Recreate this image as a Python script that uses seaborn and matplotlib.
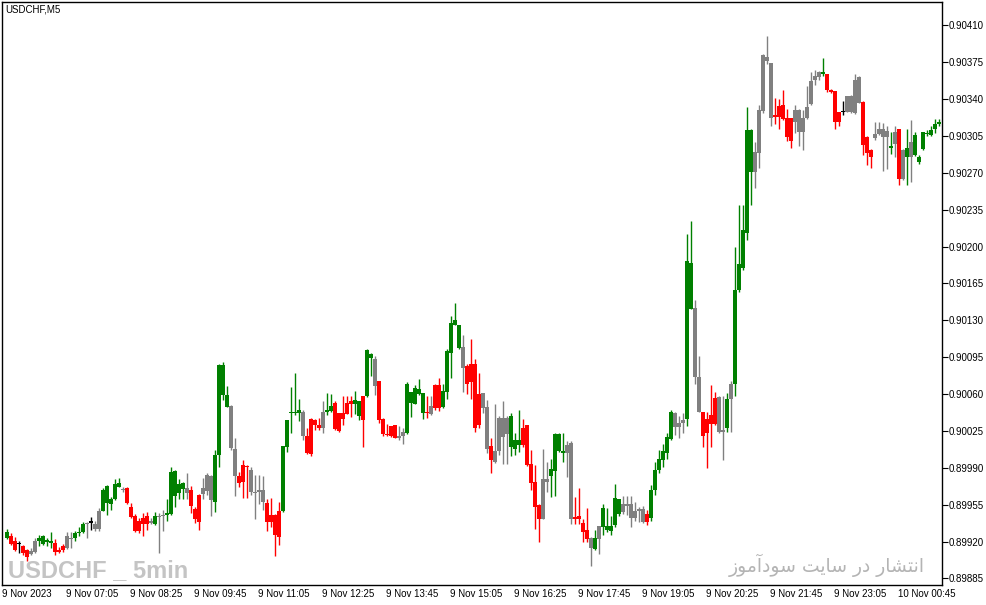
"""USDCHF M5 candlestick chart (MetaTrader style)."""

import matplotlib
matplotlib.use("Agg")
import matplotlib.pyplot as plt
import seaborn as sns
import numpy as np
import pandas as pd

sns.set_theme(style="white")
plt.rcParams["font.family"] = ["Liberation Sans", "DejaVu Sans"]

# prices in points (1e-5)
opens = [
    89923, 89925, 89921, 89918, 89916, 89912, 89908, 89910, 89921, 89918,
    89920, 89919, 89919, 89912, 89916, 89914, 89923, 89923, 89928, 89929,
    89937, 89938, 89937, 89932, 89949, 89957, 89956, 89960, 89972, 89970,
    89971, 89953, 89944, 89940, 89942, 89944, 89938, 89937, 89944, 89944,
    89945, 89946, 89963, 89966, 89970, 89971, 89969, 89951, 89939, 89965,
    89968, 89982, 89958, 90002, 90088, 90059, 90049, 90008, 89982, 89977,
    89992, 89988, 89967, 89967, 89969, 89957, 89939, 89945, 89924, 89949,
    90010, 90042, 90042, 90042, 90043, 90020, 90003, 90035, 90031, 90028,
    90043, 90044, 90052, 90042, 90042, 90052, 90053, 90051, 90039, 90058,
    90058, 90094, 90093, 90072, 90036, 90022, 90030, 90031, 90018, 90020,
    90023, 90052, 90051, 90060, 90061, 90043, 90041, 90069, 90069, 90048,
    90062, 90099, 90126, 90126, 90105, 90087, 90071, 90089, 90031, 90061,
    90048, 90011, 89996, 90006, 90037, 90022, 90010, 90008, 90012, 90028,
    90031, 89994, 89977, 89955, 89941, 89979, 89982, 89987, 90006, 90004,
    90004, 90014, 89943, 89944, 89938, 89931, 89923, 89913, 89922, 89934,
    89931, 89930, 89936, 89946, 89956, 89954, 89956, 89942, 89949, 89951,
    89946, 89942, 89969, 89988, 89997, 90004, 90017, 90042, 90029, 90033,
    90036, 90184, 90142, 90076, 90043, 90036, 90040, 90056, 90057, 90024,
    90028, 90055, 90070, 90159, 90180, 90213, 90311, 90271, 90289, 90329,
    90380, 90374, 90325, 90333, 90334, 90322, 90322, 90318, 90330, 90309,
    90322, 90335, 90358, 90361, 90364, 90364, 90349, 90348, 90328, 90328,
    90328, 90343, 90327, 90361, 90337, 90304, 90292, 90303, 90307, 90312,
    90304, 90294, 90297, 90312, 90264, 90285, 90285, 90287, 90280, 90293,
    90307, 90306, 90312, 90316,
]
highs = [
    89932, 89928, 89924, 89921, 89917, 89913, 89914, 89923, 89926, 89926,
    89923, 89929, 89922, 89915, 89918, 89929, 89929, 89930, 89934, 89939,
    89939, 89943, 89940, 89952, 89971, 89974, 89962, 89979, 89980, 89972,
    89972, 89957, 89946, 89942, 89947, 89948, 89942, 89948, 89947, 89950,
    89960, 89991, 89988, 89979, 89977, 89985, 89973, 89953, 89965, 89980,
    89985, 89983, 90007, 90089, 90090, 90068, 90050, 90018, 89986, 89997,
    89993, 89991, 89983, 89983, 89982, 89960, 89961, 89946, 89958, 90011,
    90035, 90067, 90080, 90055, 90045, 90028, 90037, 90036, 90037, 90053,
    90061, 90060, 90053, 90042, 90058, 90058, 90058, 90063, 90053, 90058,
    90103, 90099, 90096, 90072, 90037, 90032, 90030, 90031, 90030, 90028,
    90071, 90062, 90069, 90074, 90061, 90058, 90058, 90070, 90075, 90070,
    90103, 90134, 90146, 90126, 90116, 90089, 90112, 90093, 90080, 90061,
    90054, 90018, 90051, 90039, 90053, 90039, 90042, 90023, 90045, 90036,
    90031, 90007, 89993, 89956, 90008, 89996, 89998, 90023, 90023, 90023,
    90015, 90015, 89962, 89971, 89941, 89952, 89924, 89931, 89935, 89956,
    89952, 89944, 89975, 89960, 89963, 89963, 89963, 89958, 89953, 89954,
    89950, 89974, 89996, 90007, 90013, 90023, 90045, 90043, 90039, 90042,
    90212, 90224, 90149, 90096, 90043, 90043, 90069, 90062, 90058, 90058,
    90061, 90072, 90200, 90239, 90239, 90332, 90312, 90299, 90334, 90383,
    90400, 90374, 90341, 90340, 90349, 90331, 90322, 90334, 90331, 90330,
    90352, 90366, 90368, 90367, 90379, 90364, 90350, 90348, 90328, 90338,
    90343, 90344, 90364, 90362, 90338, 90305, 90293, 90318, 90318, 90317,
    90314, 90309, 90314, 90312, 90293, 90312, 90320, 90309, 90287, 90309,
    90311, 90314, 90321, 90321,
]
lows = [
    89922, 89917, 89911, 89909, 89907, 89902, 89907, 89909, 89916, 89917,
    89916, 89914, 89907, 89909, 89910, 89913, 89914, 89921, 89925, 89928,
    89923, 89931, 89930, 89930, 89949, 89945, 89950, 89959, 89972, 89967,
    89956, 89942, 89929, 89928, 89925, 89931, 89937, 89936, 89909, 89930,
    89940, 89945, 89953, 89960, 89960, 89960, 89947, 89938, 89931, 89960,
    89964, 89944, 89948, 89991, 90054, 90048, 90007, 89963, 89972, 89961,
    89961, 89964, 89941, 89956, 89950, 89930, 89934, 89906, 89917, 89948,
    90005, 90023, 90040, 90034, 90016, 90003, 90001, 90026, 90026, 90023,
    90040, 90043, 90026, 90024, 90031, 90041, 90038, 90041, 90035, 90010,
    90057, 90077, 90059, 90033, 90020, 90020, 90019, 90018, 90016, 90013,
    90022, 90038, 90051, 90059, 90036, 90037, 90040, 90045, 90044, 90047,
    90055, 90075, 90126, 90103, 90062, 90060, 90055, 90024, 90028, 90042,
    90004, 89985, 89995, 90002, 89994, 89994, 90001, 90002, 90005, 90010,
    89992, 89969, 89932, 89920, 89941, 89967, 89962, 89963, 90005, 89996,
    89981, 89937, 89937, 89937, 89920, 89920, 89897, 89912, 89908, 89926,
    89929, 89926, 89934, 89944, 89946, 89945, 89934, 89940, 89939, 89938,
    89936, 89940, 89964, 89985, 89991, 89998, 90016, 90021, 90018, 90023,
    90030, 90141, 90070, 90043, 90010, 89990, 90010, 90031, 90023, 89997,
    90024, 90024, 90058, 90157, 90178, 90206, 90239, 90256, 90275, 90327,
    90373, 90314, 90316, 90312, 90320, 90300, 90294, 90308, 90295, 90292,
    90321, 90334, 90353, 90358, 90362, 90347, 90346, 90312, 90314, 90325,
    90328, 90327, 90326, 90336, 90287, 90277, 90275, 90301, 90306, 90272,
    90274, 90288, 90285, 90258, 90263, 90258, 90261, 90286, 90278, 90292,
    90305, 90305, 90308, 90314,
]
closes = [
    89929, 89918, 89912, 89918, 89909, 89905, 89911, 89921, 89923, 89925,
    89921, 89921, 89910, 89910, 89912, 89925, 89922, 89928, 89929, 89937,
    89938, 89938, 89932, 89949, 89969, 89973, 89960, 89975, 89976, 89969,
    89957, 89943, 89930, 89930, 89937, 89937, 89940, 89944, 89943, 89945,
    89947, 89986, 89987, 89975, 89976, 89966, 89954, 89941, 89964, 89971,
    89983, 89959, 90002, 90088, 90059, 90048, 90009, 89982, 89976, 89993,
    89991, 89967, 89966, 89969, 89958, 89939, 89945, 89926, 89949, 90011,
    90035, 90043, 90043, 90045, 90020, 90004, 90036, 90031, 90028, 90043,
    90045, 90049, 90027, 90025, 90036, 90041, 90051, 90054, 90053, 90035,
    90102, 90098, 90068, 90035, 90022, 90021, 90020, 90018, 90020, 90024,
    90070, 90062, 90066, 90065, 90042, 90042, 90049, 90047, 90047, 90063,
    90101, 90127, 90130, 90104, 90085, 90070, 90089, 90028, 90060, 90047,
    90008, 89997, 90006, 90037, 90019, 90037, 90039, 90016, 90016, 90012,
    89993, 89976, 89953, 89941, 89979, 89977, 89989, 90022, 90022, 90006,
    90012, 89941, 89941, 89941, 89929, 89922, 89914, 89923, 89935, 89952,
    89935, 89935, 89961, 89960, 89948, 89956, 89942, 89949, 89951, 89939,
    89939, 89969, 89988, 89998, 90006, 90019, 90043, 90029, 90033, 90035,
    90186, 90141, 90076, 90043, 90020, 90023, 90032, 90032, 90024, 90026,
    90055, 90070, 90159, 90183, 90216, 90311, 90271, 90290, 90330, 90382,
    90376, 90322, 90323, 90323, 90321, 90304, 90300, 90330, 90309, 90322,
    90332, 90357, 90362, 90366, 90366, 90349, 90347, 90318, 90318, 90328,
    90343, 90328, 90358, 90336, 90296, 90289, 90285, 90307, 90312, 90304,
    90310, 90295, 90309, 90264, 90292, 90294, 90299, 90306, 90285, 90309,
    90308, 90311, 90316, 90318,
]
# candle colour state: g = up trend, r = down trend, n = neutral, k = doji
kinds = (
    "g r r k r r n n g g g g r r r n n g g g "
    "n k n n g g g g g n r r r r r r n g n n "
    "g g g g g n r r r n n n g g g g n n r r "
    "r n n n n r r r r g g g g g n r r r r n "
    "g g r r r r r g g r g g n r r r r r n n "
    "g g g g g r n r r g g g g g n r r r r n "
    "n r n n n n g g g r r r r r n n g g g g "
    "n n r r r r n g n g g g g g n n n n n n "
    "r g g g g g g n n n g g n n r r r r n n "
    "g n g g g g g n n n n n r r r r r n n n "
    "n n n n g r r r r k n n n n r r r n n n "
    "n g n r n g n g g g g g g g"
).split()

time_labels = [
    "9 Nov 2023", "9 Nov 07:05", "9 Nov 08:25", "9 Nov 09:45", "9 Nov 11:05",
    "9 Nov 12:25", "9 Nov 13:45", "9 Nov 15:05", "9 Nov 16:25", "9 Nov 17:45",
    "9 Nov 19:05", "9 Nov 20:25", "9 Nov 21:45", "9 Nov 23:05", "10 Nov 00:45",
]
price_ticks = [
    0.89885, 0.89920, 0.89955, 0.89990, 0.90025, 0.90060, 0.90095, 0.90130,
    0.90165, 0.90200, 0.90235, 0.90270, 0.90305, 0.90340, 0.90375, 0.90410,
]

df = pd.DataFrame({
    "open": np.array(opens) / 1e5,
    "high": np.array(highs) / 1e5,
    "low": np.array(lows) / 1e5,
    "close": np.array(closes) / 1e5,
    "kind": kinds,
})
df["x"] = np.arange(len(df))

palette = {"g": "#008000", "r": "#ff0000", "n": "#808080", "k": "#000000"}
cols = df["kind"].map(palette)

W, H = 987, 605
fig = plt.figure(figsize=(W / 100, H / 100), dpi=100)
ax = fig.add_axes([2 / W, 20 / H, 940 / W, 583 / H])

ax.vlines(df["x"], df["low"], df["high"], colors=cols, linewidth=1)
body_lo = df[["open", "close"]].min(axis=1)
body_h = (df["close"] - df["open"]).abs().clip(lower=0.000011)
ax.bar(df["x"], body_h, bottom=body_lo, width=0.8, color=cols, linewidth=0)

ax.set_xlim(-1.25, 233.75)
ax.set_ylim(0.898788, 0.904321)

ax.yaxis.tick_right()
ax.set_yticks(price_ticks)
ax.set_yticklabels([f"{p:.5f}" for p in price_ticks])
ax.set_xticks([16 * i - 1.25 for i in range(len(time_labels))])
ax.set_xticklabels(time_labels, ha="left")
ax.tick_params(axis="y", labelsize=7, colors="black", length=4,
               width=0.8, direction="out", pad=1)
ax.tick_params(axis="x", labelsize=7, colors="black", length=3,
               width=0.8, direction="out", pad=0)
for s in ax.spines.values():
    s.set_color("black")
    s.set_linewidth(1)
ax.grid(False)

fig.text(5 / W, 1 - 4 / H, "USDCHF,M5", fontsize=7, color="black", va="top")

fig.text(8 / W, 1 - 577 / H, "USDCHF _ 5min", fontsize=17, fontweight="bold",
         color="#c4c4c4", va="baseline",
         family=["Liberation Sans Narrow", "Liberation Sans", "DejaVu Sans"])

# watermark "انتشار در سایت سودآموز", written in shaped visual order
persian = ("\uFEAF\uFEEE\uFEE3\uFE81\uFEA9\uFEEE\uFEB3 \uFE96\uFBFE\uFE8E\uFEB3 "
           "\uFEAD\uFEA9 \uFEAD\uFE8E\uFEB8\uFE98\uFEE7\uFE8D")
fig.text(925 / W, 1 - 572 / H, persian, fontsize=13.5, color="#b4b4b4",
         ha="right", va="baseline", family=["DejaVu Sans"])

fig.savefig("out.png", dpi=100, facecolor="white")
